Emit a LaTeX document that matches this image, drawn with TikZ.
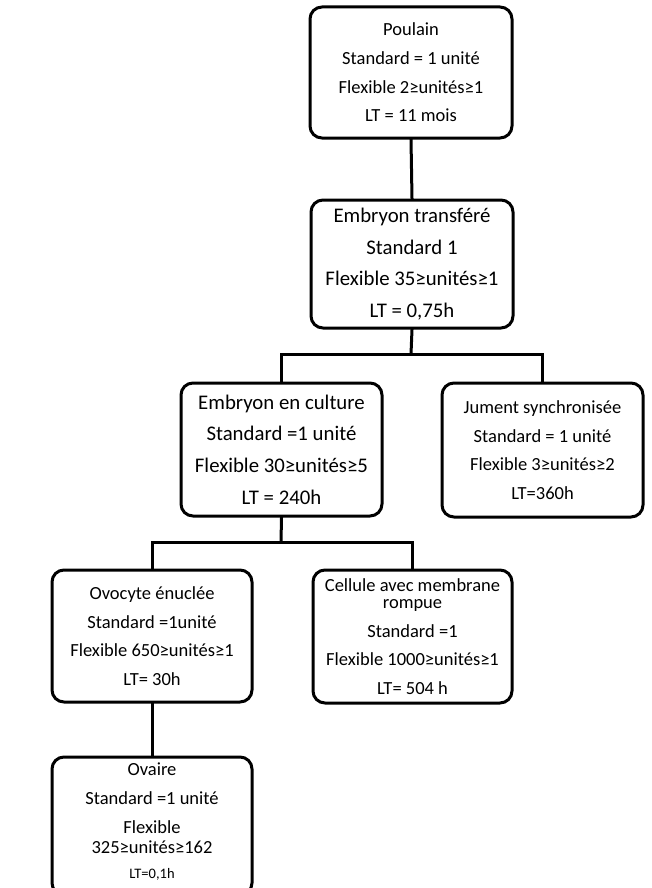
\documentclass[tikz,border=0pt]{standalone}
\usepackage{fontspec}
\setmainfont{Carlito}
\tikzset{
  stepbox/.style={draw, line width=3pt, rounded corners=12pt, align=center, inner sep=0pt, fill=white},
  conn/.style={line width=3pt, line join=miter, line cap=rect},
  fnorm/.style={font=\fontsize{18.5}{28.7}\selectfont},
  fbig/.style={font=\fontsize{20.8}{31.7}\selectfont},
}
\begin{document}
\begin{tikzpicture}[x=1pt,y=-1pt]
\useasboundingbox (0,0) rectangle (651,888);
\fill[white] (0,0) rectangle (651,888);
% boxes
\node[stepbox, fnorm, minimum width=202pt, minimum height=131pt] (poulain) at (411,72.5)
  {\raisebox{-2pt}{Poulain}\\\raisebox{-2pt}{Standard = 1 unité}\\\raisebox{-2pt}{Flexible 2≥unités≥1}\\\raisebox{-2pt}{LT = 11 mois}};
\node[stepbox, fbig, minimum width=202pt, minimum height=128pt] (et) at (412,264)
  {Embryon transféré\\Standard 1\\Flexible 35≥unités≥1\\LT = 0,75h};
\node[stepbox, fbig, minimum width=201pt, minimum height=133pt] (eec) at (281.5,449.5)
  {Embryon en culture\\Standard =1 unité\\Flexible 30≥unités≥5\\LT = 240h};
\node[stepbox, fnorm, minimum width=201pt, minimum height=134pt] (jument) at (542.5,450)
  {Jument synchronisée\\Standard = 1 unité\\Flexible 3≥unités≥2\\LT=360h};
\node[stepbox, fnorm, minimum width=200pt, minimum height=132pt] (ovocyte) at (152,636)
  {Ovocyte énuclée\\Standard =1unité\\Flexible 650≥unités≥1\\LT= 30h};
\node[stepbox, fnorm, minimum width=199pt, minimum height=133pt] (cellule) at (412.5,636.5)
  {Cellule avec membrane\\[-11.7pt]rompue\\Standard =1\\Flexible 1000≥unités≥1\\LT= 504 h};
\node[stepbox, minimum width=200pt, minimum height=138pt] (ovaire) at (152,826) {};
\node[fnorm, align=center, anchor=north, inner sep=0pt] (ovairetxt) at (152,763)
  {Ovaire\\Standard =1 unité\\Flexible\\[-8.2pt]325≥unités≥162\\[-4pt]{\fontsize{14.5}{14.5}\selectfont LT=0,1h}};
% junction points
\coordinate (bus1) at (411,354);
\coordinate (bus2) at (281,542);
% connectors
\draw[conn] (poulain.south) -- (et.north);
\draw[conn] (et.south) -- (bus1);
\draw[conn] (eec.north) |- (bus1) -| (jument.north);
\draw[conn] (eec.south) -- (bus2);
\draw[conn] (ovocyte.north) |- (bus2) -| (cellule.north);
\draw[conn] (ovocyte.south) -- (ovaire.north);
\end{tikzpicture}
\end{document}
